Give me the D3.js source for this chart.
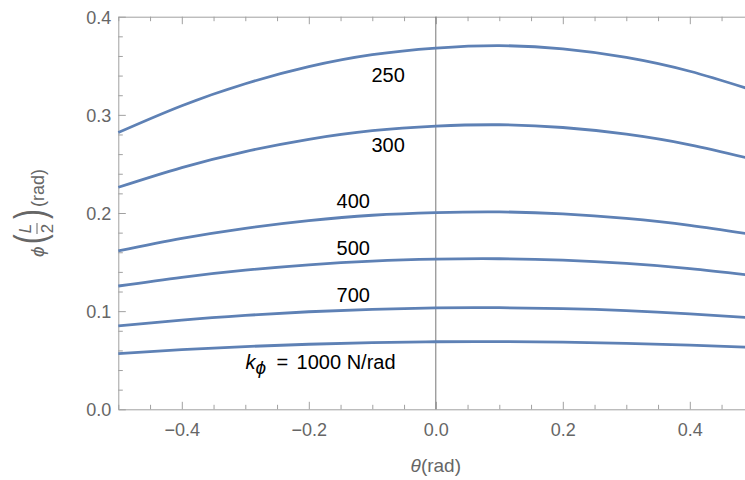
<!DOCTYPE html>
<html>
<head>
<meta charset="utf-8">
<script src="https://cdn.jsdelivr.net/npm/d3@7"></script>
<style>
  html, body { margin: 0; padding: 0; background: #fff; }
  svg { display: block; }
  text { font-family: "Liberation Sans", Arial, sans-serif; }
</style>
</head>
<body>
<svg id="chart" width="745" height="480"></svg>
<script>
// ---- data ----
const thetas = [-0.5, -0.4, -0.3, -0.2, -0.1, 0.0, 0.1, 0.2, 0.3, 0.4, 0.5];
const k250  = [0.2820, 0.3093, 0.3317, 0.3491, 0.3613, 0.3680, 0.3705, 0.3672, 0.3585, 0.3444, 0.3249];
const k300  = [0.2262, 0.2463, 0.2626, 0.2751, 0.2839, 0.2885, 0.2899, 0.2871, 0.2803, 0.2695, 0.2546];
const k400  = [0.1613, 0.1741, 0.1844, 0.1922, 0.1977, 0.2004, 0.2011, 0.1991, 0.1945, 0.1875, 0.1779];
const k500  = [0.1256, 0.1345, 0.1417, 0.1472, 0.1510, 0.1530, 0.1534, 0.1519, 0.1486, 0.1434, 0.1363];
const k700  = [0.0849, 0.0909, 0.0957, 0.0994, 0.1019, 0.1033, 0.1035, 0.1026, 0.1006, 0.0973, 0.0930];
const k1000 = [0.0567, 0.0607, 0.0639, 0.0663, 0.0680, 0.0688, 0.0690, 0.0684, 0.0672, 0.0654, 0.0630];
const seriesNames = ["250", "300", "400", "500", "700", "1000"];
const seriesValues = [k250, k300, k400, k500, k700, k1000];
const xMajorTicks = [-0.4, -0.2, 0.0, 0.2, 0.4];
const yMajorTicks = [0.0, 0.1, 0.2, 0.3, 0.4];
// label anchor positions (theta, phi) for curve labels
const labelTheta = [-0.075, -0.075, -0.13, -0.13, -0.13, -0.2995];
const labelPhi   = [0.3335, 0.2625, 0.2055, 0.1575, 0.1095, 0.0415];

// ---- layout ----
const svg = d3.select("#chart");
const x = d3.scaleLinear().domain([-0.5, 0.5]).range([118.3, 753.3]);
const y = d3.scaleLinear().domain([0, 0.4]).range([409.3, 16.7]);
const axisColor = "#a0a0a0";
const labelColor = "#666666";
const lineColor = "#5E81B5";

const xMinor = d3.range(-0.5, 0.5001, 0.05).map(v => +v.toFixed(3)).filter(v => !xMajorTicks.some(m => Math.abs(m - v) < 1e-9));
const yMinor = d3.range(0, 0.4001, 0.02).map(v => +v.toFixed(3)).filter(v => !yMajorTicks.some(m => Math.abs(m - v) < 1e-9));

function styleAxis(g) {
  g.select(".domain").attr("stroke", axisColor).attr("stroke-width", 1);
  g.selectAll(".tick line").attr("stroke", axisColor).attr("stroke-width", 1);
}

// bottom axis (major + labels)
const gx = svg.append("g").attr("transform", `translate(0,${y(0)})`)
  .call(d3.axisBottom(x).tickValues(xMajorTicks).tickSize(-7.5).tickSizeOuter(0).tickPadding(14)
        .tickFormat(d3.format(".1f")));
styleAxis(gx);
gx.selectAll(".tick text").attr("fill", labelColor).attr("font-size", 18).attr("dy", "0.71em")
  .attr("y", 14);
svg.append("g").attr("transform", `translate(0,${y(0)})`)
  .call(d3.axisBottom(x).tickValues(xMinor).tickSize(-4.5).tickSizeOuter(0).tickFormat(""))
  .call(g => { g.select(".domain").remove(); g.selectAll(".tick line").attr("stroke", axisColor); });

// top axis (frame)
const gt = svg.append("g").attr("transform", `translate(0,${y(0.4)})`)
  .call(d3.axisTop(x).tickValues(xMajorTicks).tickSize(-7.5).tickSizeOuter(0).tickFormat(""));
styleAxis(gt);
svg.append("g").attr("transform", `translate(0,${y(0.4)})`)
  .call(d3.axisTop(x).tickValues(xMinor).tickSize(-4.5).tickSizeOuter(0).tickFormat(""))
  .call(g => { g.select(".domain").remove(); g.selectAll(".tick line").attr("stroke", axisColor); });

// left axis
const gy = svg.append("g").attr("transform", `translate(${x(-0.5)},0)`)
  .call(d3.axisLeft(y).tickValues(yMajorTicks).tickSize(-7.5).tickSizeOuter(0).tickPadding(7)
        .tickFormat(d3.format(".1f")));
styleAxis(gy);
gy.selectAll(".tick text").attr("fill", labelColor).attr("font-size", 18).attr("x", -7).attr("dy", "0.36em");
svg.append("g").attr("transform", `translate(${x(-0.5)},0)`)
  .call(d3.axisLeft(y).tickValues(yMinor).tickSize(-4.5).tickSizeOuter(0).tickFormat(""))
  .call(g => { g.select(".domain").remove(); g.selectAll(".tick line").attr("stroke", axisColor); });

// vertical line at theta = 0
svg.append("line")
  .attr("x1", x(0)).attr("x2", x(0)).attr("y1", y(0.4)).attr("y2", y(0))
  .attr("stroke", "#777777").attr("stroke-width", 1);

// curves
const line = d3.line().x((d, i) => x(thetas[i])).y(d => y(d)).curve(d3.curveNatural);
svg.append("g").selectAll("path").data(seriesValues).join("path")
  .attr("d", d => line(d))
  .attr("fill", "none").attr("stroke", lineColor).attr("stroke-width", 2.8)
  .attr("stroke-linejoin", "round");

// curve labels
seriesNames.forEach((name, i) => {
  const lx = x(labelTheta[i]), ly = y(labelPhi[i]);
  if (name === "1000") {
    const t = svg.append("text").attr("x", lx).attr("y", ly)
      .attr("font-size", 20).attr("fill", "#000").attr("text-anchor", "start");
    t.append("tspan").attr("font-style", "italic").text("k");
    t.append("tspan").attr("font-style", "italic").attr("font-size", 19).attr("dy", 5).text("ϕ");
    t.append("tspan").attr("x", lx + 31).attr("dy", -5).text("=");
    t.append("tspan").attr("x", lx + 51).text("1000 N/rad");
  } else {
    svg.append("text").attr("x", lx).attr("y", ly)
      .attr("font-size", 20).attr("fill", "#000").attr("text-anchor", "middle").text(name);
  }
});

// x axis title
const xt = svg.append("text").attr("x", x(0)).attr("y", 472).attr("text-anchor", "middle")
  .attr("font-size", 19).attr("fill", labelColor);
xt.append("tspan").attr("font-style", "italic").text("θ");
xt.append("tspan").text("(rad)");

// y axis title (rotated)
const yt = svg.append("g").attr("transform", "translate(44,212) rotate(-90)").attr("fill", labelColor);
yt.append("text").attr("x", -45).attr("y", 0).attr("font-size", 19).attr("font-style", "italic").text("ϕ");
yt.append("text").attr("x", -32).attr("y", 0).attr("font-size", 42)
  .attr("transform", "translate(-32,0) scale(0.7,1) translate(32,0)").text("(");
yt.append("text").attr("x", -16.5).attr("y", -13).attr("font-size", 17).attr("font-style", "italic")
  .attr("text-anchor", "middle").text("L");
yt.append("line").attr("x1", -22).attr("x2", -11).attr("y1", -7).attr("y2", -7)
  .attr("stroke", labelColor).attr("stroke-width", 1);
yt.append("text").attr("x", -16.5).attr("y", 9).attr("font-size", 17)
  .attr("text-anchor", "middle").text("2");
yt.append("text").attr("x", -7).attr("y", 0).attr("font-size", 42)
  .attr("transform", "translate(-7,0) scale(0.7,1) translate(7,0)").text(")");
yt.append("text").attr("x", 5).attr("y", 0).attr("font-size", 18).text("(rad)");
</script>
</body>
</html>
